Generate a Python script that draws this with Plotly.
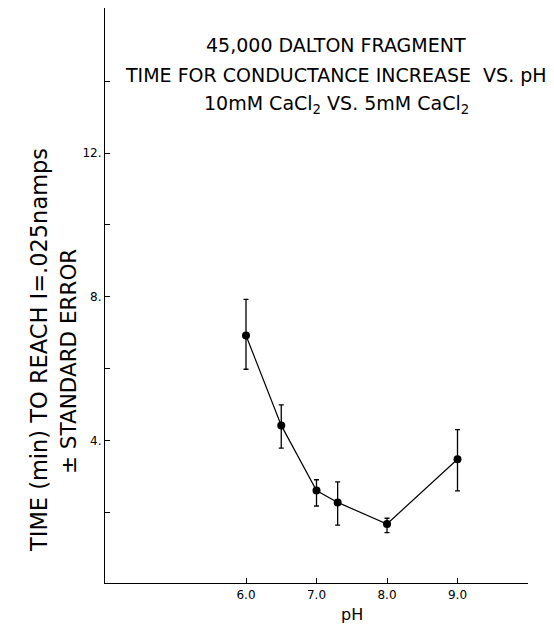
import plotly.graph_objects as go

# Data
ph = [6.0, 6.5, 7.0, 7.3, 8.0, 9.0]
time_min = [6.93, 4.43, 2.62, 2.29, 1.69, 3.49]
err_plus = [1.0, 0.57, 0.30, 0.57, 0.16, 0.82]
err_minus = [0.94, 0.63, 0.43, 0.63, 0.24, 0.88]

x_tickvals = [6, 7, 8, 9]
x_ticktext = ["6.0", "7.0", "8.0", "9.0"]
y_tickvals = [2, 4, 6, 8, 10, 12, 14]
y_ticktext = ["", "4.", "", "8.", "", "12.", ""]

title_lines = [
    "45,000 DALTON FRAGMENT",
    "TIME FOR CONDUCTANCE INCREASE  VS. pH",
    "10mM CaCl<sub>2</sub> VS. 5mM CaCl<sub>2</sub>",
]
ylabel_lines = ["TIME (min) TO REACH I=.025namps", "± STANDARD ERROR"]
xlabel = "pH"

FONT = "DejaVu Sans"

# page body has an 8px margin; plot area spans x 105..528, y 8..583 on the page
PL, PR, PT, PB = 105, 528, 8, 583


def px_x(px):
    return (px - PL) / (PR - PL)


def px_y(py):
    return (PB - py) / (PB - PT)


fig = go.Figure()
fig.add_trace(go.Scatter(
    x=ph, y=time_min, mode="lines+markers",
    line=dict(color="black", width=1.2),
    marker=dict(color="black", size=8),
    error_y=dict(type="data", symmetric=False, array=err_plus, arrayminus=err_minus,
                 color="black", thickness=1.3, width=2.5),
    showlegend=False,
))

fig.update_layout(
    width=546, height=621,
    margin=dict(l=97, r=26, t=0, b=46),
    paper_bgcolor="white", plot_bgcolor="white",
    font=dict(family=FONT, color="black"),
    xaxis=dict(range=[4, 10], showline=True, linecolor="black", linewidth=1.2,
               showgrid=False, zeroline=False, ticks="inside", ticklen=5,
               tickcolor="black", tickvals=x_tickvals, ticktext=x_ticktext,
               tickfont=dict(size=12, family=FONT)),
    yaxis=dict(range=[0.05, 16.03], showline=True, linecolor="black", linewidth=1.2,
               showgrid=False, zeroline=False, ticks="inside", ticklen=5,
               tickcolor="black", tickvals=y_tickvals, ticktext=y_ticktext,
               tickfont=dict(size=12, family=FONT)),
)

for i, t in enumerate(title_lines):
    fig.add_annotation(text=t, xref="paper", yref="paper", x=px_x(336),
                       y=px_y(45 + 29.5 * i), showarrow=False,
                       font=dict(size=19, family=FONT),
                       xanchor="center", yanchor="middle")

for t, px, py, fs in zip(ylabel_lines, [39, 68], [350, 362], [22.5, 21.5]):
    fig.add_annotation(text=t, xref="paper", yref="paper", x=px_x(px),
                       y=px_y(py), textangle=-90, showarrow=False,
                       font=dict(size=fs, family=FONT),
                       xanchor="center", yanchor="middle")

fig.add_annotation(text=xlabel, xref="paper", yref="paper", x=px_x(352),
                   y=px_y(614), showarrow=False,
                   font=dict(size=16, family=FONT),
                   xanchor="center", yanchor="middle")

fig.write_html("out.html")
